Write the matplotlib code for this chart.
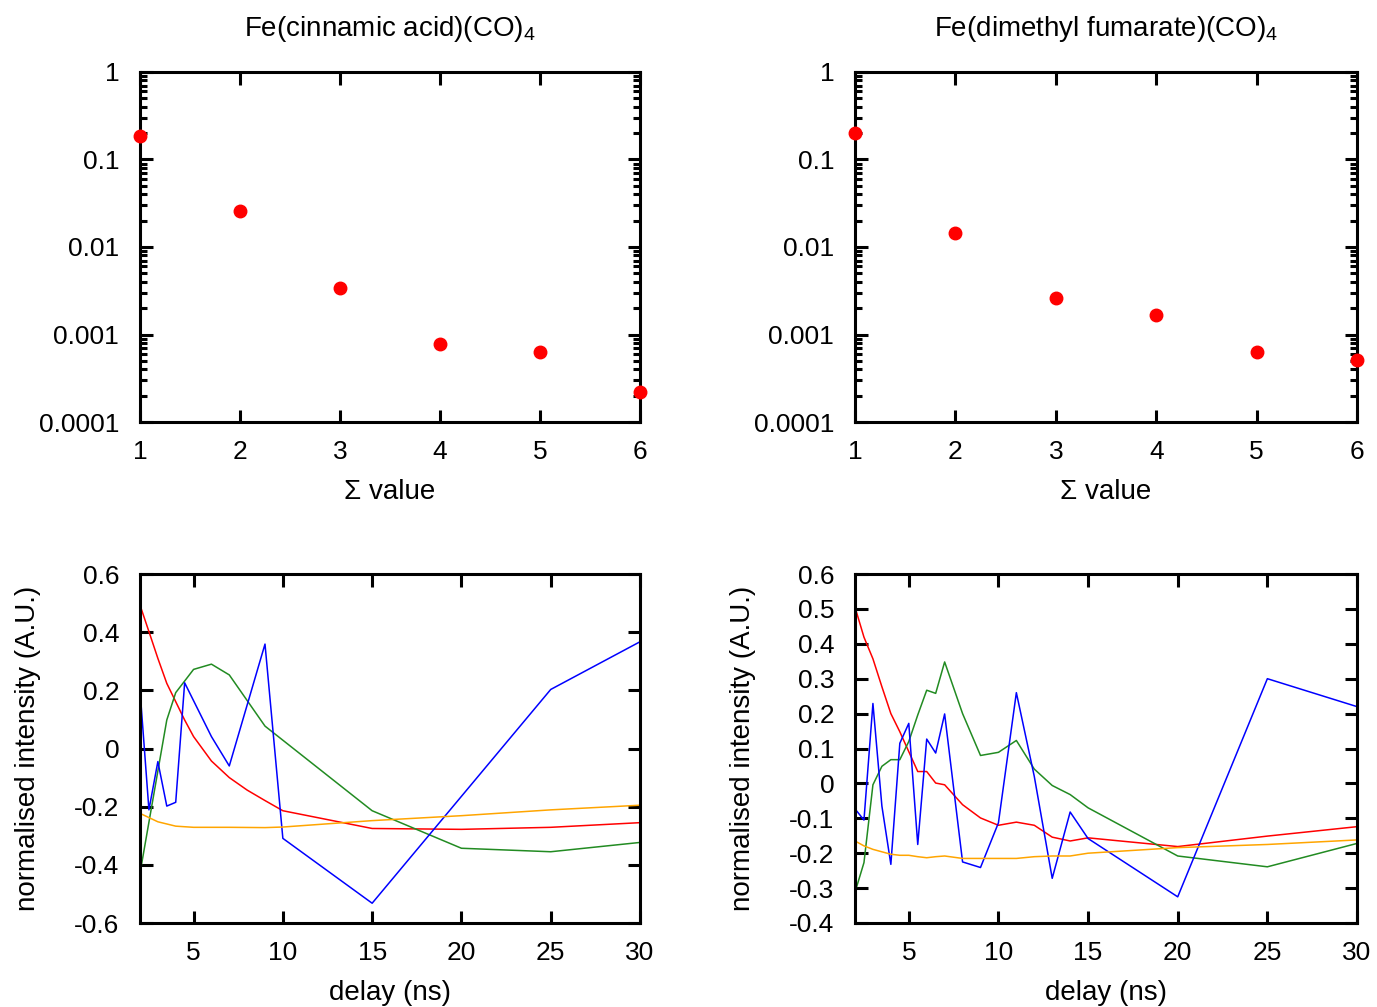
import numpy as np
import matplotlib
matplotlib.use("Agg")
import matplotlib.pyplot as plt
from matplotlib.ticker import LogLocator, NullFormatter

plt.rcParams['font.family'] = ['Liberation Sans', 'DejaVu Sans']
plt.rcParams['mathtext.default'] = 'regular'
plt.rcParams['axes.unicode_minus'] = False

# top panels: sigma value vs fraction
sigma = [1, 2, 3, 4, 5, 6]
cin_sigma = [0.186, 0.0258, 0.0034, 0.00078, 0.00063, 0.00022]
dmf_sigma = [0.201, 0.0145, 0.00261, 0.00167, 0.00063, 0.00051]

# bottom-left: Fe(cinnamic acid)(CO)4 traces
cin_red_x = [2, 2.5, 3, 3.5, 4, 4.5, 5, 6, 7, 8, 9, 10, 15, 20, 25, 30]
cin_red_y = [0.493, 0.402, 0.31, 0.224, 0.161, 0.098, 0.041, -0.043, -0.100,
             -0.143, -0.179, -0.214, -0.275, -0.278, -0.271, -0.255]
cin_green_x = [2, 3.5, 4, 5, 6, 7, 9, 15, 20, 25, 30]
cin_green_y = [-0.429, 0.098, 0.192, 0.272, 0.29, 0.253, 0.077, -0.214,
               -0.343, -0.355, -0.323]
cin_blue_x = [2, 2.5, 3, 3.5, 4, 4.5, 6, 7, 9, 10, 15, 25, 30]
cin_blue_y = [0.201, -0.211, -0.045, -0.198, -0.185, 0.226, 0.041, -0.060,
              0.359, -0.309, -0.532, 0.203, 0.367]
cin_orange_x = [2, 3, 4, 5, 7, 9, 10, 15, 20, 25, 30]
cin_orange_y = [-0.223, -0.252, -0.267, -0.271, -0.271, -0.272, -0.270,
                -0.248, -0.231, -0.211, -0.195]

# bottom-right: Fe(dimethyl fumarate)(CO)4 traces
dmf_x = [2, 2.5, 3, 3.5, 4, 4.5, 5, 5.5, 6, 6.5, 7, 8, 9, 10, 11, 12, 13, 14, 15, 20, 25, 30]
dmf_red = [0.505, 0.419, 0.357, 0.277, 0.2, 0.148, 0.091, 0.034, 0.034, 0.001,
           -0.004, -0.061, -0.099, -0.12, -0.111, -0.12, -0.154, -0.165, -0.156,
           -0.181, -0.151, -0.124]
dmf_green = [-0.312, -0.227, -0.004, 0.049, 0.068, 0.068, 0.12, 0.196, 0.267,
             0.258, 0.348, 0.2, 0.08, 0.089, 0.123, 0.041, -0.006, -0.032,
             -0.07, -0.208, -0.239, -0.172]
dmf_blue = [-0.073, -0.105, 0.229, -0.065, -0.232, 0.115, 0.172, -0.175, 0.127,
            0.087, 0.199, -0.225, -0.241, -0.113, 0.26, 0.02, -0.272, -0.082,
            -0.158, -0.325, 0.3, 0.22]
dmf_orange = [-0.165, -0.179, -0.189, -0.196, -0.203, -0.206, -0.206, -0.21,
              -0.213, -0.21, -0.208, -0.215, -0.215, -0.215, -0.215, -0.21,
              -0.208, -0.208, -0.2, -0.184, -0.175, -0.162]

fig = plt.figure(figsize=(13.77, 10.07), dpi=100)
W, H = 1377, 1007


def add_ax(x0, y0, x1, y1):
    return fig.add_axes([x0 / W, 1 - y1 / H, (x1 - x0) / W, (y1 - y0) / H])


def style(ax):
    for s in ax.spines.values():
        s.set_linewidth(2.2)
    ax.tick_params(which='major', direction='in', length=9, width=2.2,
                   top=True, right=True, labelsize=19)
    ax.tick_params(which='minor', direction='in', length=5, width=2.2,
                   top=True, right=True)
    ax.tick_params(axis='x', pad=13)
    ax.tick_params(axis='y', pad=15)


ax1 = add_ax(140, 72, 640, 422)
ax2 = add_ax(855, 72, 1357, 422)
ax3 = add_ax(140, 574, 640, 923)
ax4 = add_ax(855, 574, 1357, 923)

for ax, vals, title in [(ax1, cin_sigma, 'Fe(cinnamic acid)(CO)$_4$'),
                        (ax2, dmf_sigma, 'Fe(dimethyl fumarate)(CO)$_4$')]:
    ax.plot(sigma, vals, 'o', color='#ff0000', ms=9, clip_on=False, zorder=5)
    ax.set_yscale('log')
    ax.set_xlim(1, 6)
    ax.set_ylim(1e-4, 1)
    ax.set_yticks([1, 0.1, 0.01, 0.001, 0.0001])
    ax.set_yticklabels(['1', '0.1', '0.01', '0.001', '0.0001'])
    ax.yaxis.set_minor_locator(LogLocator(base=10, subs=np.arange(2, 10)))
    ax.yaxis.set_minor_formatter(NullFormatter())
    ax.set_xticks(sigma)
    ax.set_xlabel('Σ value', fontsize=20)
    ax.xaxis.set_label_coords(0.5, -0.2)
    ax.xaxis.label.set_va('center')
    ax.set_title(title, fontsize=20, pad=26)
    style(ax)

ax3.plot(cin_red_x, cin_red_y, color='#ff0000', lw=1.1)
ax3.plot(cin_green_x, cin_green_y, color='#228b22', lw=1.1)
ax3.plot(cin_blue_x, cin_blue_y, color='#0000ff', lw=1.1)
ax3.plot(cin_orange_x, cin_orange_y, color='#ffa500', lw=1.1)
ax3.set_ylim(-0.6, 0.6)
ax3.set_yticks([-0.6, -0.4, -0.2, 0, 0.2, 0.4, 0.6])
ax3.set_yticklabels(['-0.6', '-0.4', '-0.2', '0', '0.2', '0.4', '0.6'])

ax4.plot(dmf_x, dmf_red, color='#ff0000', lw=1.1)
ax4.plot(dmf_x, dmf_green, color='#228b22', lw=1.1)
ax4.plot(dmf_x, dmf_blue, color='#0000ff', lw=1.1)
ax4.plot(dmf_x, dmf_orange, color='#ffa500', lw=1.1)
ax4.set_ylim(-0.4, 0.6)
yt = [-0.4, -0.3, -0.2, -0.1, 0, 0.1, 0.2, 0.3, 0.4, 0.5, 0.6]
ax4.set_yticks(yt)
ax4.set_yticklabels(['0' if v == 0 else f'{v:g}' for v in yt])

for ax in (ax3, ax4):
    ax.set_xlim(2, 30)
    ax.set_xticks([5, 10, 15, 20, 25, 30])
    ax.set_xlabel('delay (ns)', fontsize=20)
    ax.xaxis.set_label_coords(0.5, -0.2)
    ax.xaxis.label.set_va('center')
    ax.set_ylabel('normalised intensity (A.U.)', fontsize=20)
    ax.yaxis.set_label_coords(-0.224, 0.5)
    ax.yaxis.label.set_va('center')
    style(ax)

fig.savefig('out.png', dpi=100)
